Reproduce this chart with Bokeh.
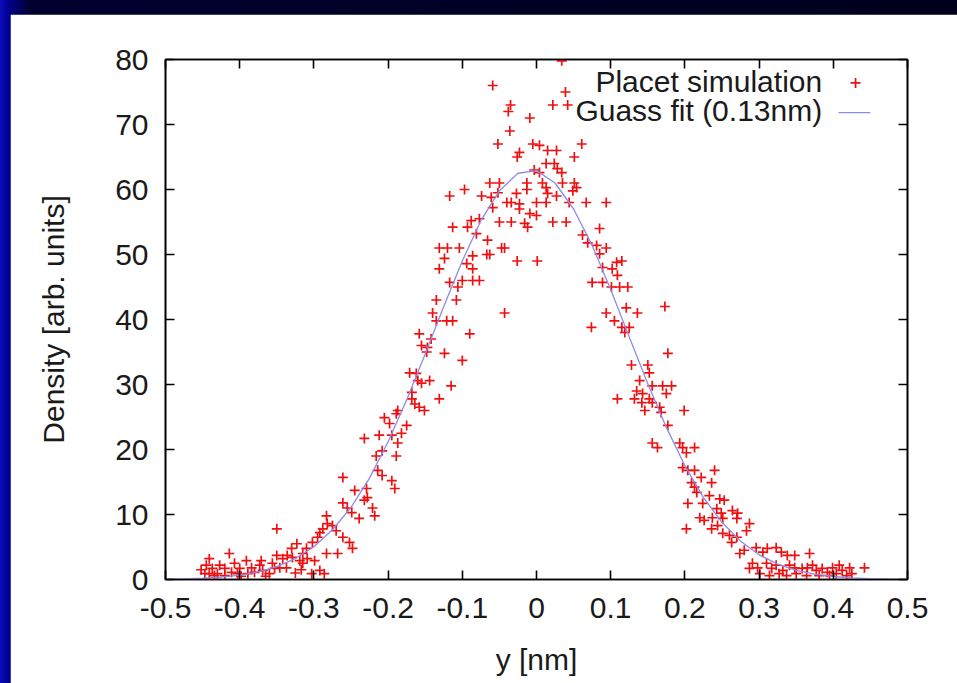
from bokeh.plotting import figure
from bokeh.models import Range1d, FixedTicker, LinearAxis, Label
from bokeh.embed import file_html
from bokeh.resources import INLINE

# ---------------- data ----------------
x_ticks = [-0.5, -0.4, -0.3, -0.2, -0.1, 0.0, 0.1, 0.2, 0.3, 0.4, 0.5]
x_tick_labels = ["-0.5", "-0.4", "-0.3", "-0.2", "-0.1", "0", "0.1", "0.2", "0.3", "0.4", "0.5"]
y_ticks = [0, 10, 20, 30, 40, 50, 60, 70, 80]
y_tick_labels = ["0", "10", "20", "30", "40", "50", "60", "70", "80"]

series_names = ["Placet simulation", "Guass fit (0.13nm)"]

# Placet simulation points (x [nm], density) by region
sim_peak = [
    (-0.059, 76), (0.039, 75), (-0.035, 73), (-0.038, 72), (0.022, 73), (0.042, 73), (-0.009, 71),
    (-0.036, 69), (-0.052, 67), (-0.005, 67), (0.004, 66.8), (0.015, 66), (0.027, 66), (0.061, 67),
    (-0.023, 65.7), (-0.026, 65), (0.051, 65), (0.013, 64), (0.024, 64), (-0.003, 63), (0.004, 62.6),
    (0.028, 63.2), (0.034, 62.6), (-0.063, 61), (-0.05, 61), (-0.013, 61), (0.008, 61), (0.013, 60.3),
    (0.035, 61), (0.051, 61), (0.054, 60.3), (0.049, 59.8), (-0.013, 60), (-0.027, 59.4), (-0.097, 60),
    (-0.117, 59), (-0.074, 59), (-0.061, 58.8), (-0.052, 59.5), (-0.034, 58), (-0.023, 57.8), (-0.023, 57),
    (0.0, 58), (0.013, 58), (0.027, 59), (0.044, 58), (0.067, 58), (0.094, 58), (0.015, 59.4),
    (-0.059, 57.2), (-0.04, 58), (-0.009, 56.3), (0.0, 56), (-0.077, 55.5), (-0.088, 55.2), (-0.093, 54.2),
    (-0.113, 54.2), (-0.05, 55), (-0.034, 55), (-0.016, 54.8), (-0.012, 54.2), (0.022, 55), (0.04, 55),
    (0.085, 54), (0.062, 53), (0.069, 51.8), (0.081, 51.4), (0.094, 51), (0.085, 50.1), (-0.131, 51),
    (-0.12, 51), (-0.104, 51), (-0.086, 49.8), (-0.086, 47.8), (-0.094, 48.6), (-0.067, 50), (-0.063, 50),
    (-0.047, 51), (-0.026, 49), (0.001, 49), (-0.124, 49.4), (0.108, 48.8), (0.115, 49), (0.089, 48),
    (0.102, 47.8), (-0.117, 45.7), (-0.1, 46), (-0.086, 46), (-0.077, 46), (0.075, 45.7), (0.089, 45.7),
    (-0.131, 47.8), (0.034, 79.8), (-0.081, 53.2), (-0.066, 52.2), (-0.043, 51), (-0.106, 45),
]

sim_left = [
    (-0.135, 43), (-0.108, 43), (-0.14, 41), (-0.135, 39.8), (-0.121, 39.8), (-0.113, 39.8), (-0.043, 41),
    (-0.158, 37.8), (-0.142, 37), (-0.09, 37.8), (-0.155, 36), (-0.147, 35.7), (-0.148, 35), (-0.124, 34.8),
    (-0.1, 33.7), (-0.171, 31.8), (-0.162, 31.7), (-0.16, 30.6), (-0.144, 30.6), (-0.155, 30.2),
    (-0.168, 28.8), (-0.168, 27.8), (-0.164, 27), (-0.115, 29.8), (-0.131, 27.8), (-0.187, 26), (-0.151, 26),
    (-0.158, 26.5), (-0.205, 24.9), (-0.198, 24), (-0.175, 23.7), (-0.182, 22.5), (-0.212, 22.2),
    (-0.195, 22.2), (-0.232, 21.7), (-0.189, 25.5), (-0.187, 21),
    (-0.216, 19), (-0.208, 19.8), (-0.189, 19), (-0.214, 16.8), (-0.208, 16), (-0.195, 15.2), (-0.191, 14),
    (-0.261, 15.7), (-0.245, 13.7), (-0.229, 14), (-0.228, 12.6), (-0.232, 12.2), (-0.261, 11.8),
    (-0.255, 11), (-0.249, 10.3), (-0.239, 9.4), (-0.221, 11), (-0.218, 9.8),
]

sim_left_tail = [
    (-0.283, 9.8), (-0.282, 8.6), (-0.275, 8.3), (-0.27, 7.5), (-0.292, 7.2), (-0.288, 7.8), (-0.295, 6.5),
    (-0.261, 6.5), (-0.252, 5.7), (-0.248, 4.8), (-0.283, 4), (-0.268, 4), (-0.302, 5.7), (-0.31, 4.8),
    (-0.315, 4), (-0.309, 3.2), (-0.299, 2.9), (-0.323, 5.5), (-0.33, 4.8), (-0.336, 3.7), (-0.329, 3.4),
    (-0.319, 2.9), (-0.315, 2.5), (-0.35, 7.8), (-0.35, 3.7), (-0.342, 3.2), (-0.346, 1.8), (-0.353, 1.7),
    (-0.337, 1.8), (-0.371, 2.9), (-0.373, 2.2), (-0.369, 1.4), (-0.36, 0.9), (-0.391, 2.9), (-0.384, 1.8),
    (-0.38, 1.1), (-0.389, 0.9), (-0.414, 4), (-0.407, 2.5), (-0.4, 1.7), (-0.403, 0.9), (-0.411, 1.1),
    (-0.427, 2.2), (-0.42, 1.7), (-0.43, 0.9), (-0.42, 0.6), (-0.441, 3.2), (-0.445, 2.2), (-0.437, 1.7),
    (-0.441, 0.9), (-0.447, 0.9), (-0.434, 0.6), (-0.303, 0.9), (-0.292, 1.4), (-0.286, 0.9),
    (-0.452, 1.5), (-0.398, 0.5), (-0.365, 0.5), (-0.356, 2.5), (-0.325, 1.0), (-0.317, 1.5),
]

sim_right = [
    (0.109, 46.8), (0.101, 45), (0.112, 45), (0.123, 45), (0.121, 41.8), (0.136, 41), (0.173, 42),
    (0.094, 41), (0.105, 39.8), (0.115, 38.8), (0.119, 38), (0.125, 38.8), (0.074, 38.8), (0.177, 34.8),
    (0.128, 33), (0.15, 33), (0.152, 31.8), (0.139, 30.6), (0.156, 29.8), (0.17, 29.8), (0.182, 29.8),
    (0.175, 28.6), (0.135, 29), (0.143, 28.6), (0.132, 27.8), (0.142, 27.2), (0.152, 27.8), (0.156, 27.2),
    (0.146, 26), (0.166, 26.5), (0.168, 25.7), (0.109, 27.8), (0.199, 26), (0.177, 23.7), (0.156, 21),
    (0.163, 20.3), (0.193, 21), (0.197, 20.3), (0.213, 20.3), (0.202, 19.5),
    (0.197, 17.2), (0.204, 16.8), (0.213, 16.8), (0.222, 15.7), (0.24, 16.8), (0.209, 14.9), (0.213, 14.2),
    (0.236, 14.9), (0.216, 13.4), (0.233, 12.9), (0.224, 11.7), (0.204, 11.7), (0.247, 12.4), (0.253, 12.2),
    (0.264, 10.6), (0.243, 10.9), (0.249, 10.2), (0.22, 9.5), (0.226, 9.1), (0.237, 9.5), (0.251, 9.4),
    (0.271, 10.2), (0.27, 9.4), (0.202, 7.8), (0.236, 7.8), (0.244, 8.3), (0.287, 8.6), (0.283, 7.5),
]

sim_right_tail = [
    (0.251, 7.1), (0.26, 6.8), (0.27, 6.5), (0.263, 5.7), (0.274, 4), (0.28, 4.5), (0.296, 4.9),
    (0.305, 4.2), (0.311, 4.8), (0.323, 4.9), (0.33, 4.2), (0.338, 3.7), (0.348, 3.7), (0.368, 4),
    (0.291, 2.5), (0.298, 1.8), (0.287, 1.7), (0.31, 2.5), (0.317, 1.7), (0.323, 2.2), (0.332, 1.4),
    (0.341, 2.2), (0.348, 1.8), (0.301, 0.9), (0.314, 0.6), (0.327, 0.9), (0.337, 0.6), (0.35, 0.9),
    (0.358, 1.7), (0.365, 1.8), (0.372, 2.2), (0.377, 1.4), (0.385, 1.7), (0.392, 1.1), (0.399, 1.8),
    (0.408, 2.2), (0.412, 1.4), (0.422, 1.8), (0.425, 0.9), (0.442, 1.8), (0.364, 0.6), (0.381, 0.6),
    (0.395, 0.6), (0.404, 0.9), (0.418, 0.6),
]

# Gauss fit curve
fit_x = [-0.5, -0.475, -0.45, -0.425, -0.4, -0.375, -0.35, -0.325, -0.3, -0.275, -0.25, -0.225, -0.2,
         -0.175, -0.15, -0.125, -0.1, -0.075, -0.05, -0.025, 0.0, 0.025, 0.05, 0.075, 0.1, 0.125, 0.15,
         0.175, 0.2, 0.225, 0.25, 0.275, 0.3, 0.325, 0.35, 0.375, 0.4, 0.425, 0.45, 0.475, 0.5]
fit_y = [0.05, 0.10, 0.19, 0.37, 0.67, 1.17, 1.98, 3.22, 5.05, 7.65, 11.1, 15.6, 21.2,
         27.6, 34.7, 42.0, 49.0, 55.2, 59.8, 62.5, 62.9, 61.0, 57.0, 51.4, 44.6, 37.3, 30.1,
         23.4, 17.5, 12.6, 8.8, 5.9, 3.8, 2.37, 1.42, 0.82, 0.46, 0.25, 0.13, 0.06, 0.03]

sim_all = sim_left_tail + sim_left + sim_peak + sim_right + sim_right_tail
sim_x = [pt[0] for pt in sim_all]
sim_y = [pt[1] for pt in sim_all]

# ---------------- figure ----------------
FONT = "Liberation Sans"
TXT = "#1a1a1a"

p = figure(width=947, height=683, output_backend="svg", toolbar_location=None,
           x_range=Range1d(-0.5, 0.5), y_range=Range1d(0, 80),
           min_border_left=155, min_border_right=50, min_border_top=45, min_border_bottom=118)
p.background_fill_color = "white"
p.border_fill_color = "white"
p.outline_line_color = "black"
p.outline_line_width = 1.6
p.xgrid.visible = False
p.ygrid.visible = False

p.extra_x_ranges = {"leg": Range1d(0, 1)}
p.extra_y_ranges = {"leg": Range1d(0, 1)}

def style_axis(ax, ticks, labels, show_labels=True):
    ax.ticker = FixedTicker(ticks=ticks)
    if show_labels:
        ax.major_label_overrides = dict(zip(ticks, labels))
    else:
        ax.major_label_overrides = {t: "" for t in ticks}
    ax.major_tick_in = 9
    ax.major_tick_out = 0
    ax.minor_tick_in = 0
    ax.minor_tick_out = 0
    ax.major_tick_line_color = "black"
    ax.major_tick_line_width = 1.6
    ax.axis_line_color = "black"
    ax.axis_line_width = 1.6
    ax.major_label_text_font = FONT
    ax.major_label_text_font_size = "30px"
    ax.major_label_text_color = TXT
    ax.axis_label_text_font = FONT
    ax.axis_label_text_font_size = "30px"
    ax.axis_label_text_font_style = "normal"
    ax.axis_label_text_color = TXT

style_axis(p.xaxis[0], x_ticks, x_tick_labels)
style_axis(p.yaxis[0], y_ticks, y_tick_labels)
p.xaxis[0].axis_label = "y [nm]"
p.yaxis[0].axis_label = "Density [arb. units]"
p.xaxis[0].major_label_standoff = 18
p.yaxis[0].major_label_standoff = 17
p.xaxis[0].axis_label_standoff = 22
p.yaxis[0].axis_label_standoff = 42

top_ax = LinearAxis()
style_axis(top_ax, x_ticks, x_tick_labels, show_labels=False)
top_ax.major_label_standoff = 0
p.add_layout(top_ax, "above")
right_ax = LinearAxis()
style_axis(right_ax, y_ticks, y_tick_labels, show_labels=False)
right_ax.major_label_standoff = 0
p.add_layout(right_ax, "right")

# data
p.scatter(sim_x, sim_y, marker="cross", size=10, line_color="#ee1010", line_width=1.7)
p.line(fit_x, fit_y, line_color="#8c8ce8", line_width=1.3)

# gnuplot-style key (text right-aligned, sample on the right)
p.add_layout(Label(x=0.885, y=0.958, x_range_name="leg", y_range_name="leg", text=series_names[0],
                   text_align="right", text_baseline="middle", text_font=FONT,
                   text_font_size="30px", text_color=TXT))
p.add_layout(Label(x=0.885, y=0.902, x_range_name="leg", y_range_name="leg", text=series_names[1],
                   text_align="right", text_baseline="middle", text_font=FONT,
                   text_font_size="30px", text_color=TXT))
p.scatter([0.930], [0.955], x_range_name="leg", y_range_name="leg", marker="cross", size=10,
          line_color="#ee1010", line_width=1.7)
p.line([0.907, 0.950], [0.898, 0.898], x_range_name="leg", y_range_name="leg",
       line_color="#8c8ce8", line_width=1.3)

html = file_html(p, INLINE)
page_style = (
    "<style>"
    "html{background:#00001c !important;}"
    "body{margin:0 !important; padding:14px 0 0 10px !important; overflow:hidden !important;"
    "background:linear-gradient(to right, #0c0cc0 0px, #00008a 9px, #000030 30px, #00001c 957px) !important;}"
    "</style>"
)
html = html.replace("</head>", page_style + "</head>", 1)
open("out.html", "w").write(html)
